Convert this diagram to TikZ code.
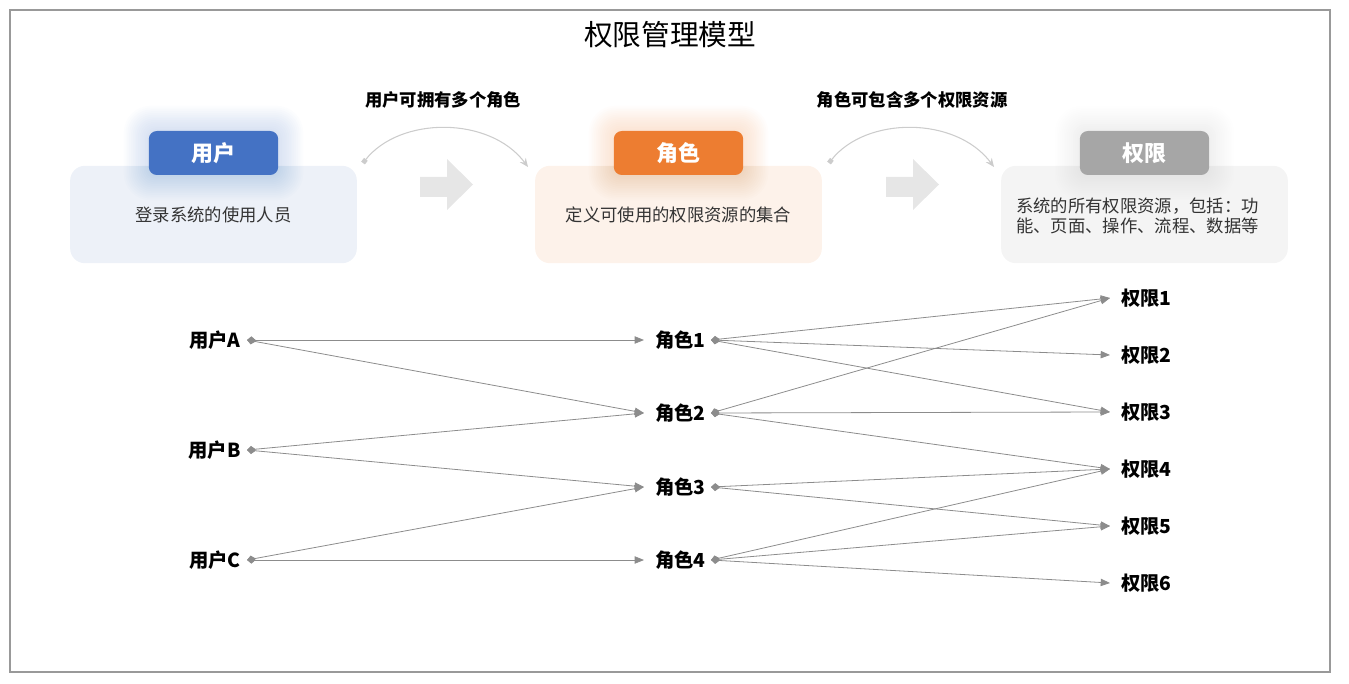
\documentclass[tikz,border=0pt]{standalone}
\usepackage{fontspec}
\setmainfont{Noto Sans CJK SC}
\usetikzlibrary{arrows.meta}
\definecolor{ublue}{HTML}{4472C4}
\definecolor{ubluebg}{HTML}{EDF1F8}
\definecolor{rorange}{HTML}{ED7D31}
\definecolor{rorangebg}{HTML}{FDF2EA}
\definecolor{pgray}{HTML}{A6A6A6}
\definecolor{pgraybg}{HTML}{F4F4F4}
\definecolor{linkgray}{HTML}{8C8C8C}
\definecolor{arcgray}{HTML}{CCCCCC}
\definecolor{blockgray}{HTML}{E6E6E6}
\definecolor{txtgray}{HTML}{333333}
\tikzset{
  bgbox/.style={rounded corners=11pt, minimum width=215pt, minimum height=73pt, inner sep=0pt},
  header/.style={rounded corners=6pt, minimum width=97pt, minimum height=33pt, inner sep=0pt,
     text=white, font=\fontsize{16.5}{19}\selectfont\bfseries},
  desc/.style={text=txtgray, font=\fontsize{13}{15}\selectfont},
  arclabel/.style={font=\fontsize{13}{15}\selectfont\bfseries},
  lbl/.style={font=\fontsize{14.5}{17}\selectfont\bfseries, inner sep=0pt},
  link/.style={draw=linkgray, line width=0.6pt,
     {Diamond[length=6.5pt,width=5.5pt,fill=linkgray]}-{Triangle[length=7pt,width=5.5pt,fill=linkgray]}},
  arcline/.style={draw=arcgray, line width=0.8pt,
     {Square[length=3.5pt,width=3.5pt,fill=arcgray]}-{Stealth[length=6.5pt,width=5.5pt,fill=arcgray]}},
}
\begin{document}
\begin{tikzpicture}[x=0.75pt,y=-0.75pt]
\useasboundingbox (0,0) rectangle (1349,684);
\draw[draw=gray!80, line width=0.8pt] (10,10) rectangle (1330,672);

\node[font=\fontsize{21.5}{25}\selectfont] (title) at (670,35) {权限管理模型};

% background boxes
\node[bgbox, fill=ubluebg] (ubox) at (213.5,214.5) {};
\node[bgbox, fill=rorangebg] (rbox) at (678.5,214.5) {};
\node[bgbox, fill=pgraybg] (pbox) at (1144.5,214.5) {};

% glows
\foreach \i in {1,...,14}{
  \fill[ublue, fill opacity=0.016, rounded corners=6pt+\i pt]
     ({149-1.8*\i},{131-1.8*\i}) rectangle ({278+1.8*\i},{175+1.8*\i});
  \fill[rorange, fill opacity=0.016, rounded corners=6pt+\i pt]
     ({614-1.8*\i},{131-1.8*\i}) rectangle ({743+1.8*\i},{175+1.8*\i});
  \fill[pgray, fill opacity=0.011, rounded corners=6pt+\i pt]
     ({1080-1.8*\i},{131-1.8*\i}) rectangle ({1209+1.8*\i},{175+1.8*\i});
}

% headers
\node[header, fill=ublue] (uhead) at (213.5,153) {用户};
\node[header, fill=rorange] (rhead) at (678.5,153) {角色};
\node[header, fill=pgray] (phead) at (1144.5,153) {权限};

% descriptions
\node[desc] (udesc) at (213.5,215) {登录系统的使用人员};
\node[desc] (rdesc) at (678.5,215) {定义可使用的权限资源的集合};
\node[desc, anchor=west, align=left, inner sep=0pt, font=\fontsize{13}{15.5}\selectfont] (pdesc) at (1016,216)
  {系统的所有权限资源，包括：功\\能、页面、操作、流程、数据等};

% block arrows
\fill[blockgray] (420,177) -- (447,177) -- (447,159) -- (473,184.5) -- (447,210) -- (447,197) -- (420,197) -- cycle;
\fill[blockgray] (886,177) -- (913,177) -- (913,159) -- (939,184.5) -- (913,210) -- (913,197) -- (886,197) -- cycle;

% arcs
\coordinate (a1s) at (363,163);
\coordinate (a1e) at (528,167);
\coordinate (a2s) at (829,163);
\coordinate (a2e) at (994,167);
\draw[arcline] (a1s) .. controls (400,116) and (490,116) .. (a1e);
\draw[arcline] (a2s) .. controls (866,116) and (956,116) .. (a2e);
\node[arclabel] (l1) at (443,100) {用户可拥有多个角色};
\node[arclabel] (l2) at (912,100) {角色可包含多个权限资源};

% users
\node[lbl, anchor=east] (uA) at (241,340) {用户A};
\node[lbl, anchor=east] (uB) at (241,450) {用户B};
\node[lbl, anchor=east] (uC) at (241,560) {用户C};
\coordinate (uAo) at (247,340);
\coordinate (uBo) at (247,450);
\coordinate (uCo) at (247,560);

% roles
\node[lbl, anchor=west] (r1) at (655,340) {角色1};
\node[lbl, anchor=west] (r2) at (655,413) {角色2};
\node[lbl, anchor=west] (r3) at (655,487) {角色3};
\node[lbl, anchor=west] (r4) at (655,560) {角色4};
\foreach \n/\y in {1/340,2/413,3/487,4/560}{
  \coordinate (r\n i) at (644,\y);
  \coordinate (r\n o) at (711,\y);
}

% permissions
\foreach \n/\y in {1/298,2/355,3/412,4/469,5/526,6/583}{
  \node[lbl, anchor=west] (p\n) at (1121,\y) {权限\n};
  \coordinate (p\n i) at (1110,\y);
}

% links users -> roles
\draw[link] (uAo) -- (r1i);
\draw[link] (uAo) -- (r2i);
\draw[link] (uBo) -- (r2i);
\draw[link] (uBo) -- (r3i);
\draw[link] (uCo) -- (r3i);
\draw[link] (uCo) -- (r4i);

% links roles -> permissions
\draw[link] (r1o) -- (p1i);
\draw[link] (r1o) -- (p2i);
\draw[link] (r1o) -- (p3i);
\draw[link] (r2o) -- (p1i);
\draw[link] (r2o) -- (p3i);
\draw[link] (r2o) -- (p4i);
\draw[link] (r3o) -- (p4i);
\draw[link] (r3o) -- (p5i);
\draw[link] (r4o) -- (p4i);
\draw[link] (r4o) -- (p5i);
\draw[link] (r4o) -- (p6i);
\end{tikzpicture}
\end{document}
